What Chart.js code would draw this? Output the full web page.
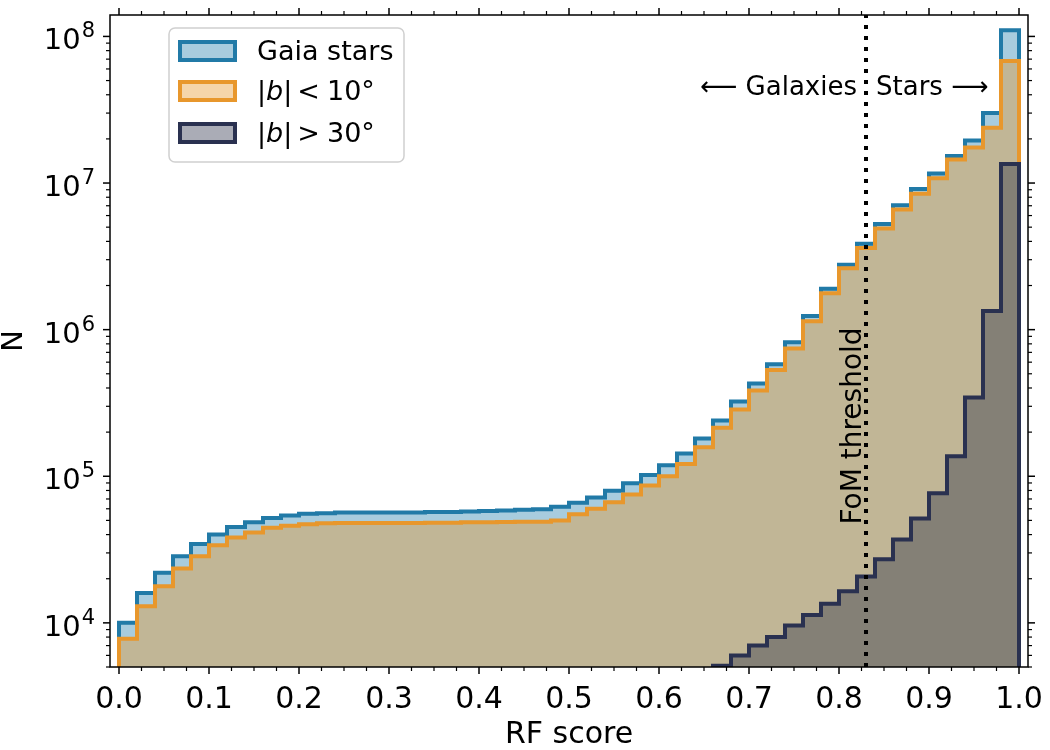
<!DOCTYPE html>
<html>
<head>
<meta charset="utf-8">
<script src="https://cdn.jsdelivr.net/npm/chart.js@4.4.0/dist/chart.umd.min.js"></script>
<style>
  html, body { margin: 0; padding: 0; background: #fff; }
  #wrap { width: 1050px; height: 750px; }
</style>
</head>
<body>
<div id="wrap"><canvas id="hist"></canvas></div>
<script>
// left edge of each RF-score bin (bin width 0.02)
const binLeft = [
  0.00, 0.02, 0.04, 0.06, 0.08, 0.10, 0.12, 0.14, 0.16, 0.18,
  0.20, 0.22, 0.24, 0.26, 0.28, 0.30, 0.32, 0.34, 0.36, 0.38,
  0.40, 0.42, 0.44, 0.46, 0.48, 0.50, 0.52, 0.54, 0.56, 0.58,
  0.60, 0.62, 0.64, 0.66, 0.68, 0.70, 0.72, 0.74, 0.76, 0.78,
  0.80, 0.82, 0.84, 0.86, 0.88, 0.90, 0.92, 0.94, 0.96, 0.98
];
const binEnd = 1.0;

// counts per bin
const gaiaStars = [
  1.0e4, 1.6e4, 2.2e4, 2.85e4, 3.45e4, 4.0e4, 4.5e4, 4.85e4, 5.2e4, 5.4e4,
  5.55e4, 5.6e4, 5.65e4, 5.65e4, 5.65e4, 5.65e4, 5.65e4, 5.7e4, 5.7e4, 5.75e4,
  5.8e4, 5.85e4, 5.9e4, 5.95e4, 6.2e4, 6.6e4, 7.15e4, 7.95e4, 8.95e4, 1.02e5,
  1.19e5, 1.43e5, 1.81e5, 2.4e5, 3.23e5, 4.3e5, 5.8e5, 8.2e5, 1.24e6, 1.9e6,
  2.77e6, 3.86e6, 5.25e6, 7.05e6, 9.1e6, 1.16e7, 1.53e7, 1.95e7, 3.0e7, 1.1e8
];
const lowLat = [
  7.8e3, 1.3e4, 1.78e4, 2.35e4, 2.85e4, 3.38e4, 3.82e4, 4.13e4, 4.45e4, 4.6e4,
  4.7e4, 4.78e4, 4.8e4, 4.8e4, 4.8e4, 4.8e4, 4.8e4, 4.82e4, 4.82e4, 4.85e4,
  4.85e4, 4.87e4, 4.9e4, 4.9e4, 5.0e4, 5.5e4, 6.0e4, 6.65e4, 7.5e4, 8.65e4,
  1.0e5, 1.21e5, 1.58e5, 2.14e5, 2.85e5, 3.85e5, 5.3e5, 7.45e5, 1.14e6, 1.77e6,
  2.62e6, 3.6e6, 4.9e6, 6.6e6, 8.45e6, 1.08e7, 1.45e7, 1.75e7, 2.38e7, 6.8e7
];
const highLat = [
  null, null, null, null, null, null, null, null, null, null,
  null, null, null, null, null, null, null, null, null, null,
  null, null, null, null, null, null, null, null, null, null,
  null, null, null, 5.1e3, 6.0e3, 7.0e3, 8.0e3, 9.6e3, 1.13e4, 1.35e4,
  1.64e4, 2.07e4, 2.72e4, 3.7e4, 5.15e4, 7.65e4, 1.37e5, 3.45e5, 1.34e6, 1.35e7
];

const xTicks = [0.0, 0.1, 0.2, 0.3, 0.4, 0.5, 0.6, 0.7, 0.8, 0.9, 1.0];
const yTicks = [1e4, 1e5, 1e6, 1e7, 1e8];
const yMin = 5e3, yMax = 1.4e8;
const fomThreshold = 0.83;

const COLORS = {
  blue: "rgb(33,122,167)", blueFill: "rgba(37,127,172,0.4)",
  orange: "rgb(232,151,44)", orangeFill: "rgba(230,150,42,0.4)",
  dark: "rgb(42,49,80)", darkFill: "rgba(42,47,72,0.4)"
};
const FONT = "DejaVu Sans";

// step outline: up from the floor at the first bin, across each bin, down at the end
function stepOutline(values){
  const first = values.findIndex(v => v !== null);
  const pts = [{ x: binLeft[first], y: yMin }];
  for (let i = first; i < values.length; i++) pts.push({ x: binLeft[i], y: values[i] });
  pts.push({ x: binEnd, y: values[values.length - 1] });
  pts.push({ x: binEnd, y: yMin });
  return pts;
}

const legendItems = [
  { stroke: COLORS.blue, fill: COLORS.blueFill, parts: [{ t: "Gaia stars" }] },
  { stroke: COLORS.orange, fill: COLORS.orangeFill, parts: [{ t: "|" }, { t: "b", it: true }, { t: "|" }, { t: "<", gap: 5 }, { t: "10°", gap: 7 }] },
  { stroke: COLORS.dark, fill: COLORS.darkFill, parts: [{ t: "|" }, { t: "b", it: true }, { t: "|" }, { t: ">", gap: 5 }, { t: "30°", gap: 7 }] }
];

const decorations = {
  id: "decorations",
  afterDraw(chart){
    const { ctx, chartArea: a, scales: { x, y } } = chart;
    ctx.save();

    // FoM threshold line
    const fx = x.getPixelForValue(fomThreshold);
    ctx.strokeStyle = "#000";
    ctx.lineWidth = 4;
    ctx.setLineDash([4, 7]);
    ctx.beginPath(); ctx.moveTo(fx, a.bottom); ctx.lineTo(fx, a.top); ctx.stroke();
    ctx.setLineDash([]);

    // annotations
    ctx.fillStyle = "#000";
    ctx.font = `26px "${FONT}"`;
    ctx.textBaseline = "alphabetic";
    ctx.textAlign = "right";
    ctx.fillText("⟵ Galaxies", 857, 95);
    ctx.textAlign = "left";
    ctx.fillText("Stars ⟶", 876, 95);

    ctx.save();
    ctx.translate(861, 426);
    ctx.rotate(-Math.PI / 2);
    ctx.font = `28px "${FONT}"`;
    ctx.textAlign = "center";
    ctx.fillText("FoM threshold", 0, 0);
    ctx.restore();

    // y tick labels as 10 with a raised exponent
    yTicks.forEach(v => {
      const py = y.getPixelForValue(v);
      const exp = String(Math.round(Math.log10(v)));
      ctx.textAlign = "right";
      ctx.font = `21px "${FONT}"`;
      ctx.fillText(exp, 95, py + 1);
      const ew = ctx.measureText(exp).width;
      ctx.font = `29px "${FONT}"`;
      ctx.fillText("10", 95 - ew - 1, py + 13);
    });

    // frame + outward ticks on all four sides
    ctx.strokeStyle = "#000";
    ctx.lineWidth = 1.5;
    ctx.strokeRect(a.left, a.top, a.right - a.left, a.bottom - a.top);
    const tick = (x1, y1, x2, y2, w) => { ctx.lineWidth = w; ctx.beginPath(); ctx.moveTo(x1, y1); ctx.lineTo(x2, y2); ctx.stroke(); };
    for (let i = 0; i <= 40; i++) {
      const px = x.getPixelForValue(i * 0.025);
      const major = i % 4 === 0, len = major ? 7 : 4, w = major ? 1.5 : 1.2;
      tick(px, a.bottom, px, a.bottom + len, w);
      tick(px, a.top, px, a.top - len, w);
    }
    for (let d = 3; d <= 8; d++) {
      for (let m = 1; m <= 9; m++) {
        const v = m * Math.pow(10, d);
        if (v < yMin || v > yMax) continue;
        const py = y.getPixelForValue(v);
        const len = m === 1 ? 7 : 4, w = m === 1 ? 1.5 : 1.2;
        tick(a.left, py, a.left - len, py, w);
        tick(a.right, py, a.right + len, py, w);
      }
    }

    // legend
    const lx = 169, ly = 28, lw = 235, lh = 134;
    ctx.beginPath();
    ctx.roundRect(lx, ly, lw, lh, 6);
    ctx.fillStyle = "rgba(255,255,255,0.8)";
    ctx.fill();
    ctx.strokeStyle = "#d0d0d0";
    ctx.lineWidth = 1.5;
    ctx.stroke();
    const rows = [51, 91, 133];
    legendItems.forEach((item, i) => {
      const cy = rows[i];
      ctx.fillStyle = "#fff";
      ctx.fillRect(180, cy - 9, 55, 18);
      ctx.fillStyle = item.fill;
      ctx.fillRect(180, cy - 9, 55, 18);
      ctx.strokeStyle = item.stroke;
      ctx.lineWidth = 4;
      ctx.strokeRect(180, cy - 9, 55, 18);
      let tx = 257;
      ctx.fillStyle = "#000";
      ctx.textAlign = "left";
      item.parts.forEach(p => {
        tx += p.gap || 0;
        ctx.font = `${p.it ? "italic " : ""}27px "${FONT}"`;
        ctx.fillText(p.t, tx, cy + 9);
        tx += ctx.measureText(p.t).width;
      });
    });

    ctx.restore();
  }
};

new Chart(document.getElementById("hist"), {
  type: "line",
  data: {
    datasets: [
      { label: "Gaia stars", data: stepOutline(gaiaStars), borderColor: COLORS.blue, backgroundColor: COLORS.blueFill, fill: "start", order: 3 },
      { label: "|b| < 10°", data: stepOutline(lowLat), borderColor: COLORS.orange, backgroundColor: COLORS.orangeFill, fill: "start", order: 2 },
      { label: "|b| > 30°", data: stepOutline(highLat), borderColor: COLORS.dark, backgroundColor: COLORS.darkFill, fill: "start", order: 1 }
    ]
  },
  options: {
    responsive: true,
    maintainAspectRatio: false,
    animation: false,
    layout: { padding: { left: 0, right: 22, top: 15, bottom: 0 } },
    elements: {
      point: { radius: 0, hoverRadius: 0 },
      line: { borderWidth: 4, stepped: true, tension: 0, borderJoinStyle: "miter" }
    },
    plugins: { legend: { display: false }, tooltip: { enabled: false } },
    scales: {
      x: {
        type: "linear", min: -0.01, max: 1.01,
        grid: { display: false, drawTicks: false },
        border: { display: false },
        afterBuildTicks: (s) => { s.ticks = xTicks.map(v => ({ value: v })); },
        afterFit: (s) => { s.height = 83; s.paddingLeft = 0; s.paddingRight = 0; },
        ticks: { color: "#000", font: { family: FONT, size: 30 }, padding: 15, maxRotation: 0, autoSkip: false, callback: (v) => Number(v).toFixed(1) },
        title: { display: true, text: "RF score", color: "#000", font: { family: FONT, size: 30, lineHeight: 1 }, padding: { top: 0, bottom: 0 } }
      },
      y: {
        type: "logarithmic", min: yMin, max: yMax,
        grid: { display: false, drawTicks: false },
        border: { display: false },
        afterBuildTicks: (s) => { s.ticks = yTicks.map(v => ({ value: v })); },
        afterFit: (s) => { s.width = 110; s.paddingTop = 0; s.paddingBottom = 0; },
        ticks: { display: false },
        title: { display: true, text: "N", color: "#000", font: { family: FONT, size: 29, lineHeight: 1 }, padding: { top: 0, bottom: 0 } }
      }
    }
  },
  plugins: [decorations]
});
</script>
</body>
</html>
